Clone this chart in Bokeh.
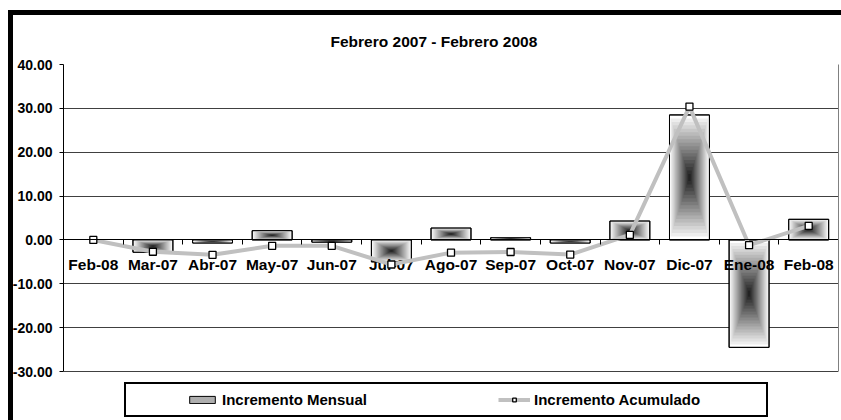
from bokeh.plotting import figure
from bokeh.models import (FixedTicker, NumeralTickFormatter, Legend, LegendItem, LinearAxis)
from bokeh.core.properties import value
from bokeh.embed import file_html
from bokeh.resources import INLINE

# ---------------- data ----------------
categories = ["Feb-08", "Mar-07", "Abr-07", "May-07", "Jun-07", "Jul-07", "Ago-07",
              "Sep-07", "Oct-07", "Nov-07", "Dic-07", "Ene-08", "Feb-08"]
mensual = [0.0, -2.8, -0.7, 2.1, -0.5, -5.0, 2.7, 0.5, -0.7, 4.3, 28.5, -24.5, 4.7]
acumulado = [0.0, -2.7, -3.4, -1.35, -1.35, -5.6, -2.9, -2.75, -3.35, 1.15, 30.4, -1.2, 3.2]
y_ticks = [-30, -20, -10, 0, 10, 20, 30, 40]
title_text = "Febrero 2007 - Febrero 2008"
serie_barras = "Incremento Mensual"
serie_linea = "Incremento Acumulado"

FONT = "Liberation Sans"
n = len(categories)
centers = [i + 0.5 for i in range(n)]
boundaries = list(range(n + 1))
bar_w = 0.67

# layout geometry (pixels): plot area from y=64 (40.00) to y=371 (-30.00);
# the frame is extended down to the canvas bottom so that the legend can sit inside it
W, H = 841, 420
TOP, PLOT_BOTTOM = 64, 371
y_hi, y_lo_axis = y_ticks[-1], y_ticks[0]
px_per_unit = (PLOT_BOTTOM - TOP) / (y_hi - y_lo_axis)
y_lo = y_hi - (H - TOP) / px_per_unit

frame_bg = ("linear-gradient(black, black) 8px 10px / 5px 100% no-repeat, "
            "linear-gradient(black, black) 8px 10px / 100% 5px no-repeat, white")

p = figure(width=W, height=H, x_range=(0, n), y_range=(y_lo, y_hi),
           output_backend="svg", toolbar_location=None, x_axis_location="above",
           min_border_left=63, min_border_right=3, min_border_top=TOP, min_border_bottom=0,
           styles={"background": frame_bg})
p.background_fill_color = "white"
p.border_fill_color = None
p.outline_line_color = None

# title
p.title.text = title_text
p.title.align = "left"
p.title.text_font = FONT
p.title.text_font_style = "bold"
p.title.text_font_size = "15.5px"
p.title.text_color = "black"
p.title.offset = 267
p.title.standoff = 29

# y axis (left)
p.yaxis.ticker = FixedTicker(ticks=y_ticks)
p.yaxis.bounds = (y_lo_axis, y_hi)
p.yaxis.formatter = NumeralTickFormatter(format="0.00")
p.yaxis.major_label_text_font = FONT
p.yaxis.major_label_text_font_style = "bold"
p.yaxis.major_label_text_font_size = "14px"
p.yaxis.major_label_text_color = "black"
p.yaxis.major_tick_out = 4
p.yaxis.major_tick_in = 0
p.yaxis.minor_tick_line_color = None
p.yaxis.major_label_standoff = 7
p.yaxis.axis_line_color = "black"
p.yaxis.major_tick_line_color = "black"

# right border of the plot area
r_axis = LinearAxis(ticker=FixedTicker(ticks=y_ticks), bounds=(y_lo_axis, y_hi),
                    major_tick_out=0, major_tick_in=0, minor_tick_line_color=None,
                    major_label_text_color=None, major_label_text_font_size="1px",
                    major_label_standoff=0, axis_line_color="#808080")
p.add_layout(r_axis, "right")

# x axis crossing at zero, ticks between categories pointing down
p.xaxis.fixed_location = 0
p.xaxis.ticker = FixedTicker(ticks=boundaries)
p.xaxis.major_tick_out = 0
p.xaxis.major_tick_in = 5
p.xaxis.major_tick_line_color = "black"
p.xaxis.minor_tick_line_color = None
p.xaxis.axis_line_color = "black"
p.xaxis.major_label_text_color = None
p.xaxis.major_label_text_font_size = "1px"
p.xaxis.major_label_standoff = 0

p.xgrid.grid_line_color = None
p.ygrid.ticker = FixedTicker(ticks=y_ticks)
p.ygrid.grid_line_color = "#404040"
p.ygrid.grid_line_width = 1

# ---------------- gradient bars ("from center") ----------------
N = 18
bar_y = [v / 2 for v in mensual]
bar_h = [abs(v) for v in mensual]
layers = []
base = p.rect(x=centers, y=bar_y, width=bar_w, height=bar_h,
              fill_color="white", line_color="black", line_width=1)
for k in range(1, N):
    s = 1 - k / N
    t = k / (N - 1)
    g = int(250 - 215 * t)
    col = "#%02x%02x%02x" % (g, g, g)
    layers.append(p.rect(x=centers, y=bar_y, width=[bar_w * s] * n,
                         height=[h * s for h in bar_h], fill_color=col, line_color=None))
outline = p.rect(x=centers, y=bar_y, width=bar_w, height=bar_h,
                 fill_color=None, line_color="black", line_width=1)

# category labels just below the zero line
p.text(x=centers, y=[0] * n, text=categories, text_align="center", text_baseline="middle",
       y_offset=25, text_font=value(FONT), text_font_style="bold",
       text_font_size="15.5px", text_color="black")

# ---------------- cumulative line ----------------
ln = p.line(x=centers, y=acumulado, line_color="#c0c0c0", line_width=4)
sc = p.scatter(x=centers, y=acumulado, marker="square", size=7,
               fill_color="white", line_color="black", line_width=1.3)

legend = Legend(items=[LegendItem(label=serie_barras, renderers=[layers[5], outline]),
                       LegendItem(label=serie_linea, renderers=[ln, sc])],
                orientation="horizontal", location=(61, 3),
                title="\u00a0", title_location="left", title_standoff=37,
                title_text_font_size="14px",
                glyph_width=32, glyph_height=9, label_standoff=4,
                label_width=225, spacing=51, padding=7, margin=0,
                label_text_font=FONT, label_text_font_style="bold",
                label_text_font_size="15px", label_text_color="black",
                border_line_color="black", border_line_width=2.5, border_line_alpha=1,
                background_fill_color="white", background_fill_alpha=1)
p.add_layout(legend)

open("out.html", "w").write(file_html(p, INLINE))
